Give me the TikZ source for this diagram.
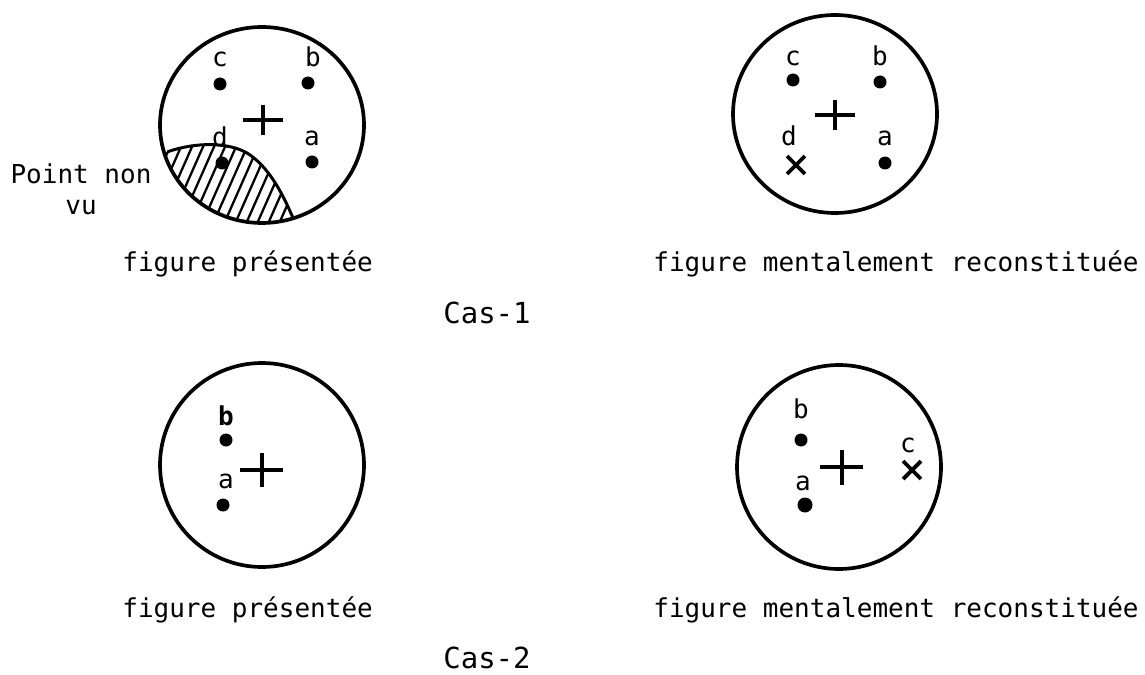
\documentclass[tikz,border=0pt]{standalone}
\usepackage{fontspec}
\setmonofont{DejaVu Sans Mono}
\usepackage{tikz}
\usetikzlibrary{positioning, shapes.misc}

\begin{document}
\begin{tikzpicture}[x=0.02cm, y=-0.02cm,
    ring/.style={line width=2.1pt},
    plusarm/.style={line width=2.4pt},
    dotpt/.style={circle, fill=black, inner sep=0pt, minimum size=0.26cm},
    crosspt/.style={cross out, draw=black, line width=2.2pt, inner sep=0pt, minimum size=0.28cm},
    lbl/.style={font=\ttfamily\fontsize{14.8}{17.6}\selectfont, inner sep=0pt},
    caption/.style={lbl, anchor=base west},
    castitle/.style={font=\ttfamily\fontsize{16.5}{19}\selectfont, inner sep=0pt, anchor=base},
    hatchline/.style={line width=1.3pt}]

    \useasboundingbox (0,0) rectangle (1145,675);

    % Cas-1 : figure presentee
    \begin{scope}
        \clip (167,152) .. controls (195,142) and (228,142) .. (247,153) .. controls (268,166) and (282,192) .. (293,218)
            arc[start angle=72.3, end angle=163.5, x radius=102, y radius=98] -- cycle;
        \foreach \s in {120,131,...,310}
            \draw[hatchline] (\s,235) -- ++(46,-104);
    \end{scope}
    \draw[line width=1.7pt] (167,152) .. controls (195,142) and (228,142) .. (247,153) .. controls (268,166) and (282,192) .. (293,218);
    \draw[ring] (262,125) ellipse [x radius=102, y radius=98];
    \draw[plusarm] (243,120) -- (283,120) (263,105) -- (263,135);

    \node[dotpt] (c1) at (220,84) {};
    \node[dotpt] (b1) at (308,83) {};
    \node[dotpt] (d1) at (222,163) {};
    \node[dotpt] (a1) at (312,162) {};
    \node[lbl, above=0.2cm of c1] (c1lbl) {c};
    \node[lbl, above=0.18cm of b1, xshift=0.1cm] (b1lbl) {b};
    \node[lbl, above=0.18cm of d1, xshift=-0.04cm] (d1lbl) {d};
    \node[lbl, above=0.17cm of a1] (a1lbl) {a};
    \node[lbl, align=center, anchor=north] (nonvu) at (81,163) {Point non\\vu};

    % Cas-1 : figure reconstituee
    \draw[ring] (835,114) ellipse [x radius=102, y radius=99];
    \draw[plusarm] (815,115) -- (855,115) (835,100) -- (835,130);

    \node[dotpt] (c2) at (793,80) {};
    \node[dotpt] (b2) at (880,82) {};
    \node[crosspt] (d2) at (796,165) {};
    \node[dotpt] (a2) at (885,163) {};
    \node[lbl, above=0.13cm of c2] (c2lbl) {c};
    \node[lbl, above=0.17cm of b2] (b2lbl) {b};
    \node[lbl, above=0.2cm of d2, xshift=-0.14cm] (d2lbl) {d};
    \node[lbl, above=0.19cm of a2] (a2lbl) {a};

    \node[caption] (pres1) at (122,272) {figure présentée};
    \node[caption] (reco1) at (653,272) {figure mentalement reconstituée};
    \node[castitle] (cas1) at (487,323) {Cas-1};

    % Cas-2 : figure presentee
    \draw[ring] (262,465) circle [radius=102];
    \draw[plusarm] (240,470) -- (283,470) (262,453) -- (262,487);

    \node[dotpt] (b3) at (226,440) {};
    \node[dotpt] (a3) at (223,505) {};
    \node[lbl, above=0.13cm of b3, font=\ttfamily\bfseries\fontsize{14.8}{17.6}\selectfont] (b3lbl) {b};
    \node[lbl, above=0.17cm of a3, xshift=0.06cm] (a3lbl) {a};

    % Cas-2 : figure reconstituee
    \draw[ring] (839,467) circle [radius=102];
    \draw[plusarm] (820,467) -- (863,467) (842,450) -- (842,485);

    \node[dotpt] (b4) at (801,440) {};
    \node[dotpt, minimum width=0.3cm] (a4) at (805,505) {};
    \node[crosspt] (c4) at (912,470) {};
    \node[lbl, above=0.27cm of b4] (b4lbl) {b};
    \node[lbl, above=0.11cm of a4, xshift=-0.04cm] (a4lbl) {a};
    \node[lbl, above=0.15cm of c4, xshift=-0.08cm] (c4lbl) {c};

    \node[caption] (pres2) at (122,617) {figure présentée};
    \node[caption] (reco2) at (653,617) {figure mentalement reconstituée};
    \node[castitle] (cas2) at (487,668) {Cas-2};
\end{tikzpicture}
\end{document}
